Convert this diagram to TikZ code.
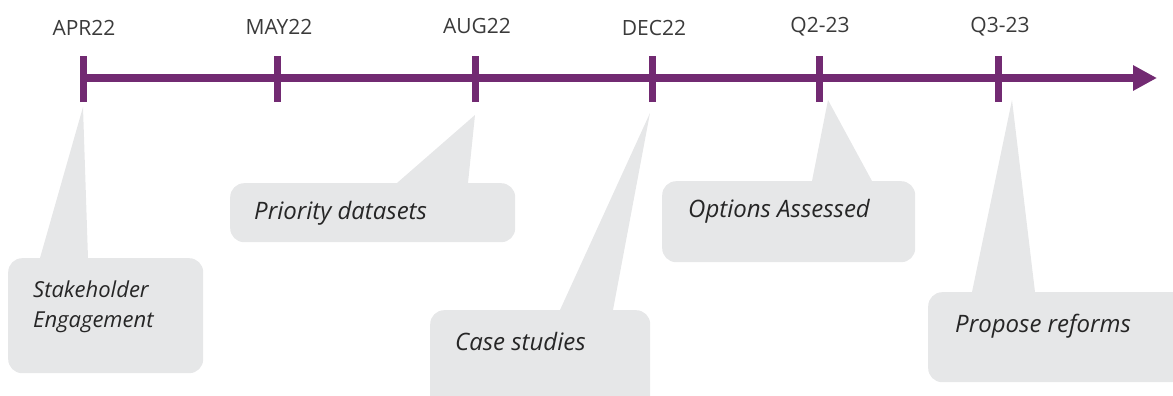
\documentclass[tikz,border=0pt]{standalone}
\usepackage{fontspec}
\setmainfont{Open Sans}
\usetikzlibrary{arrows.meta}
\definecolor{tlpurple}{HTML}{722A72}
\definecolor{boxgray}{HTML}{E6E7E8}
\definecolor{labgray}{HTML}{3A3A3A}
\tikzset{
  boxshape/.style={rectangle, rounded corners=14pt, fill=boxgray, draw=none, inner sep=0pt, anchor=north west},
  pointer/.style={fill=boxgray, draw=none},
  ticklabel/.style={font=\fontsize{21}{24}\selectfont, text=labgray, inner sep=0pt},
  calltext/.style={font=\fontsize{24}{30}\selectfont\itshape, text=black!85, inner sep=0pt, anchor=west, align=left},
  tickmark/.style={draw=tlpurple, line width=7pt},
  axis/.style={draw=tlpurple, line width=8pt, -{Triangle[length=24pt,width=24pt]}}
}
\begin{document}
\begin{tikzpicture}[x=1pt,y=-1pt]
\useasboundingbox (0,0) rectangle (1173,396);
% tick coordinates
\coordinate (s) at (80,78);
\coordinate (e) at (1157,78);
\coordinate (t1) at (83,78);
\coordinate (t2) at (277,78);
\coordinate (t3) at (475,78);
\coordinate (t4) at (652,78);
\coordinate (t5) at (819,78);
\coordinate (t6) at (998,78);
% pointer tips
\coordinate (p1) at (83,107);
\coordinate (p3) at (475,115);
\coordinate (p4) at (650,113);
\coordinate (p5) at (828,100);
\coordinate (p6) at (1012,100);
% boxes
\node[boxshape, minimum width=195pt, minimum height=115pt] (b1) at (8,258) {};
\node[boxshape, minimum width=285pt, minimum height=59pt] (b2) at (230,183) {};
\node[boxshape, minimum width=220pt, minimum height=100pt] (b3) at (430,310) {};
\node[boxshape, minimum width=253pt, minimum height=81pt] (b4) at (662,181) {};
\node[boxshape, minimum width=260pt, minimum height=90pt] (b5) at (928,292) {};
% pointers
\fill[pointer] (p1) -- ([xshift=32pt]b1.north west) -- ([xshift=80pt]b1.north west) -- cycle;
\fill[pointer] (p3) -- ([xshift=167pt]b2.north west) -- ([xshift=238pt]b2.north west) -- cycle;
\fill[pointer] (p4) -- ([xshift=130pt]b3.north west) -- ([xshift=183pt]b3.north west) -- cycle;
\fill[pointer] (p5) -- ([xshift=150pt]b4.north west) -- ([xshift=210pt]b4.north west) -- cycle;
\fill[pointer] (p6) -- ([xshift=44pt]b5.north west) -- ([xshift=107pt]b5.north west) -- cycle;
% texts
\node[calltext, font=\fontsize{22}{30}\selectfont\itshape] (c1) at (33,307) {Stakeholder\\Engagement};
\node[calltext] (c2) at (254,213) {Priority datasets};
\node[calltext] (c3) at (455,341) {Case studies};
\node[calltext] (c4) at (688,211) {Options Assessed};
\node[calltext] (c5) at (955,326) {Propose reforms};
% axis
\draw[axis] (s) -- (e);
\foreach \t in {t1,t2,t3,t4,t5,t6}{
  \draw[tickmark] ([yshift=-24pt]\t) -- ([yshift=22pt]\t);
}
% labels
\node[ticklabel] (l1) at (84,28) {APR22};
\node[ticklabel] (l2) at (279,27) {MAY22};
\node[ticklabel] (l3) at (477,26) {AUG22};
\node[ticklabel] (l4) at (654,28) {DEC22};
\node[ticklabel] (l5) at (820,27) {Q2-23};
\node[ticklabel] (l6) at (1000,27) {Q3-23};
\end{tikzpicture}
\end{document}
